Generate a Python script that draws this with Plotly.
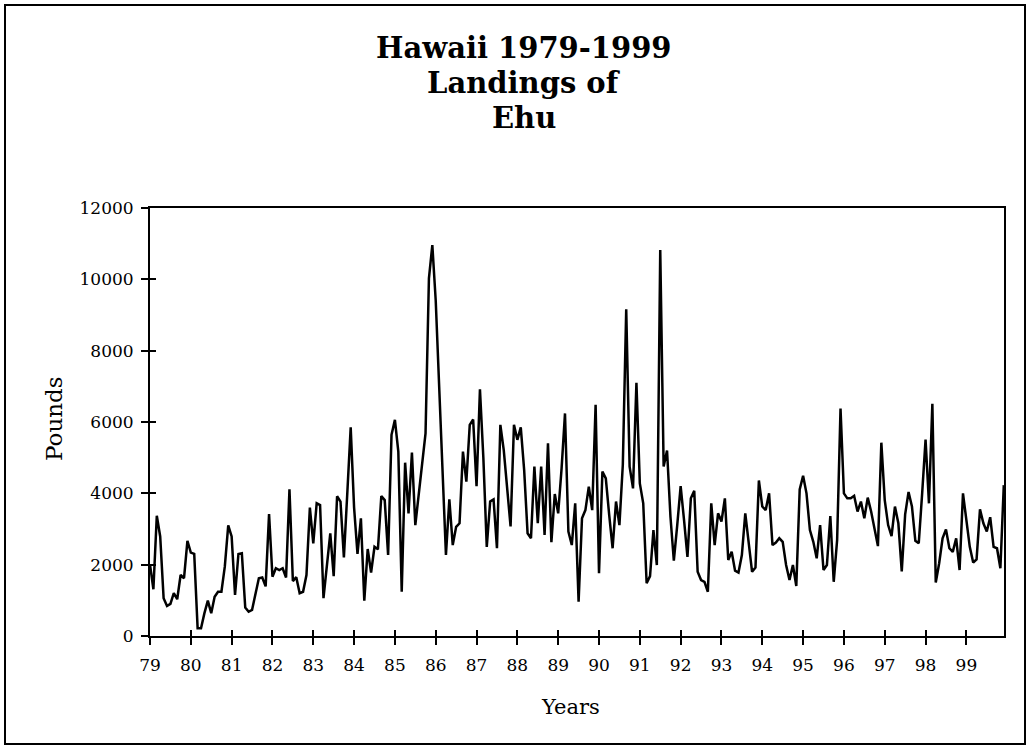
import plotly.graph_objects as go

# Monthly landings (pounds), Jan 1979 .. Dec 1999
y1979 = [2000, 1310, 3370, 2790, 1060, 840, 900, 1200, 1030, 1710, 1620, 2670]
y1980 = [2340, 2300, 215, 215, 640, 990, 640, 1100, 1240, 1240, 1950, 3100]
y1981 = [2790, 1150, 2300, 2320, 800, 680, 730, 1150, 1620, 1640, 1390, 3420]
y1982 = [1660, 1900, 1850, 1900, 1640, 4110, 1540, 1650, 1200, 1240, 1710, 3600]
y1983 = [2600, 3720, 3670, 1060, 2000, 2880, 1680, 3920, 3770, 2200, 4000, 5850]
y1984 = [3600, 2300, 3300, 990, 2440, 1780, 2500, 2430, 3920, 3810, 2270, 5640]
y1985 = [6060, 5170, 1240, 4860, 3440, 5140, 3110, 4000, 4900, 5680, 10030, 10960]
y1986 = [9400, 6900, 4500, 2270, 3830, 2550, 3060, 3160, 5170, 4330, 5920, 6070]
y1987 = [4200, 6920, 5000, 2500, 3770, 3830, 2460, 5920, 5210, 4190, 3070, 5920]
y1988 = [5500, 5850, 4650, 2880, 2740, 4750, 3160, 4750, 2830, 5400, 2630, 3980]
y1989 = [3440, 4700, 6240, 2930, 2550, 3720, 960, 3300, 3530, 4190, 3530, 6480]
y1990 = [1760, 4610, 4420, 3390, 2460, 3770, 3110, 4800, 9160, 4750, 4140, 7100]
y1991 = [4280, 3720, 1480, 1680, 2970, 1990, 10820, 4750, 5200, 3350, 2110, 3110]
y1992 = [4200, 3250, 2220, 3860, 4070, 1800, 1570, 1520, 1240, 3720, 2550, 3440]
y1993 = [3210, 3860, 2130, 2360, 1830, 1780, 2270, 3440, 2600, 1800, 1920, 4360]
y1994 = [3630, 3530, 4000, 2550, 2620, 2740, 2640, 1990, 1570, 1990, 1400, 4110]
y1995 = [4490, 4000, 2970, 2640, 2180, 3110, 1850, 1990, 3360, 1520, 2690, 6380]
y1996 = [4000, 3860, 3860, 3930, 3490, 3770, 3300, 3880, 3490, 2970, 2520, 5420]
y1997 = [3810, 3110, 2800, 3630, 3160, 1810, 3410, 4040, 3630, 2670, 2600, 4000]
y1998 = [5510, 3720, 6510, 1500, 2040, 2740, 2990, 2460, 2360, 2740, 1850, 4000]
y1999 = [3250, 2500, 2060, 2150, 3550, 3160, 2930, 3330, 2500, 2460, 1900, 4230]

years = list(range(79, 100))
tick_labels = [str(y) for y in years]
y_ticks = [0, 2000, 4000, 6000, 8000, 10000, 12000]
y_tick_labels = [str(v) for v in y_ticks]

series = (y1979 + y1980 + y1981 + y1982 + y1983 + y1984 + y1985 + y1986 + y1987
          + y1988 + y1989 + y1990 + y1991 + y1992 + y1993 + y1994 + y1995
          + y1996 + y1997 + y1998 + y1999)
months = [79 + i / 12 for i in range(len(series))]

FONT = "DejaVu Serif"
xr = [79, 79 + (len(series) - 1) / 12 + 0.005]
yr = [0, 12000]

fig = go.Figure()
fig.add_trace(go.Scatter(x=months, y=series, mode="lines",
                         line=dict(color="black", width=2.5),
                         hoverinfo="skip", showlegend=False))
# helper trace for the overlaid (inside-tick) axes
fig.add_trace(go.Scatter(x=[xr[0]], y=[yr[0]], xaxis="x2", yaxis="y2",
                         mode="markers", marker=dict(size=0.1, opacity=0),
                         hoverinfo="skip", showlegend=False))

W, H = 1031, 750
ml, mr, mt, mb = 150, 27, 208, 114

fig.update_layout(
    width=W, height=H,
    margin=dict(l=ml, r=mr, t=mt, b=mb),
    paper_bgcolor="white", plot_bgcolor="white",
    font=dict(family=FONT, color="black", size=17),
    xaxis=dict(range=xr, tickmode="array", tickvals=years, ticktext=tick_labels,
               ticks="outside", ticklen=7, tickwidth=2, tickcolor="black",
               showline=True, linecolor="black", linewidth=2, mirror=True,
               showgrid=False, zeroline=False, ticklabelstandoff=6,
               tickfont=dict(family=FONT, size=17)),
    yaxis=dict(range=yr, tickmode="array", tickvals=y_ticks, ticktext=y_tick_labels,
               ticks="outside", ticklen=7, tickwidth=2, tickcolor="black",
               showline=True, linecolor="black", linewidth=2, mirror=True,
               showgrid=False, zeroline=False, ticklabelstandoff=4,
               tickfont=dict(family=FONT, size=17)),
    xaxis2=dict(range=xr, overlaying="x", anchor="y2", side="bottom",
                tickmode="array", tickvals=years, ticks="inside", ticklen=6,
                tickwidth=2, tickcolor="black", showticklabels=False,
                showline=False, showgrid=False, zeroline=False),
    yaxis2=dict(range=yr, overlaying="y", anchor="x2", side="left",
                tickmode="array", tickvals=y_ticks, ticks="inside", ticklen=6,
                tickwidth=2, tickcolor="black", showticklabels=False,
                showline=False, showgrid=False, zeroline=False),
)

pw = W - ml - mr
ph = H - mt - mb
def px_x(p):
    return (p - ml) / pw
def px_y(p):
    return (H - mb - p) / ph

title_lines = ["Hawaii 1979-1999", "Landings of", "Ehu"]
title_y = [48, 83, 118]
for txt, yy in zip(title_lines, title_y):
    fig.add_annotation(text="<b>" + txt + "</b>", xref="paper", yref="paper",
                       x=px_x(524), y=px_y(yy), showarrow=False,
                       xanchor="center", yanchor="middle",
                       font=dict(family=FONT, size=29, color="black"))

# axis titles
fig.add_annotation(text="Years", xref="paper", yref="paper",
                   x=px_x(570), y=px_y(707), showarrow=False,
                   xanchor="center", yanchor="middle",
                   font=dict(family=FONT, size=21, color="black"))
fig.add_annotation(text="Pounds", xref="paper", yref="paper",
                   x=px_x(54), y=px_y(419), showarrow=False, textangle=-90,
                   xanchor="center", yanchor="middle",
                   font=dict(family=FONT, size=23, color="black"))

# outer frame
fig.add_shape(type="rect", xref="paper", yref="paper",
              x0=px_x(5), x1=px_x(1025), y0=px_y(744), y1=px_y(5),
              line=dict(color="black", width=2), layer="below")

fig.write_html("out.html", config={"displayModeBar": False},
               post_script="document.body.style.margin='0px';document.body.style.padding='0px';")
